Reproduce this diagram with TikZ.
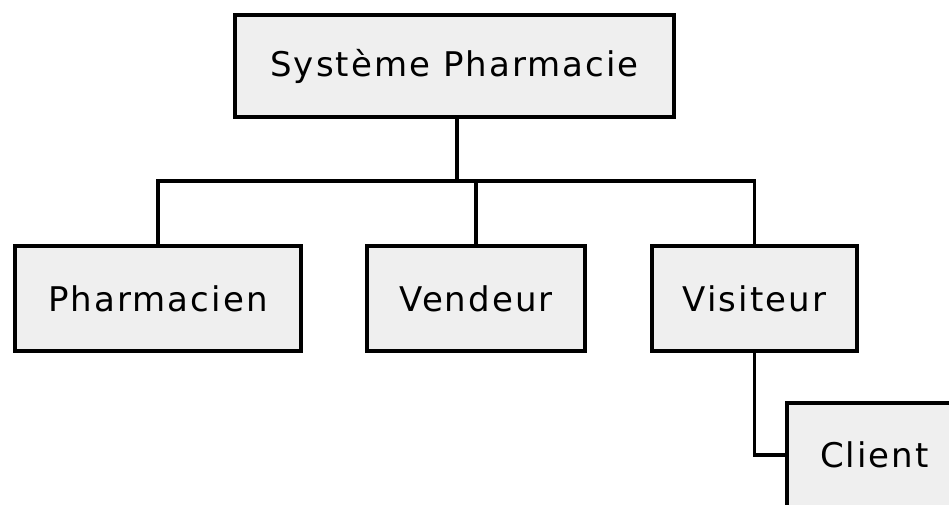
\documentclass[tikz,border=0pt]{standalone}
\usepackage{fontspec}
\setmainfont[LetterSpace=6]{DejaVu Sans}
\definecolor{boxfill}{RGB}{239,239,239}
\begin{document}
\begin{tikzpicture}[x=1pt,y=-1pt,
  orgbox/.style={draw=black, fill=boxfill, line width=3.5pt, rectangle,
    inner sep=0pt, font=\fontsize{34}{40}\selectfont},
  link/.style={draw=black, line width=3.5pt, line cap=rect}]
  \useasboundingbox (0,0) rectangle (949,504);
  \clip (0,0) rectangle (949,504);

  % boxes
  \node[orgbox, minimum width=439pt, minimum height=102pt] (top) at (454.5,66) {Système Pharmacie};
  \node[orgbox, minimum width=286pt, minimum height=105pt] (pharm) at (158,298.5) {Pharmacien};
  \node[orgbox, minimum width=218pt, minimum height=105pt] (vend) at (476,298.5) {Vendeur};
  \node[orgbox, minimum width=205pt, minimum height=105pt] (visit) at (754.5,298.5) {Visiteur};
  \node[orgbox, minimum width=175pt, minimum height=104pt] (client) at (874.5,455) {Client};

  % branch line
  \coordinate (bus) at (457,181);
  \draw[link] (top.south -| bus) -- (bus);
  \draw[link] (pharm.north) -- (pharm.north |- bus) -- (visit.north |- bus) -- (visit.north);
  \draw[link] (vend.north) -- (vend.north |- bus);
  \draw[link] (visit.south) |- (client.west);
\end{tikzpicture}
\end{document}
